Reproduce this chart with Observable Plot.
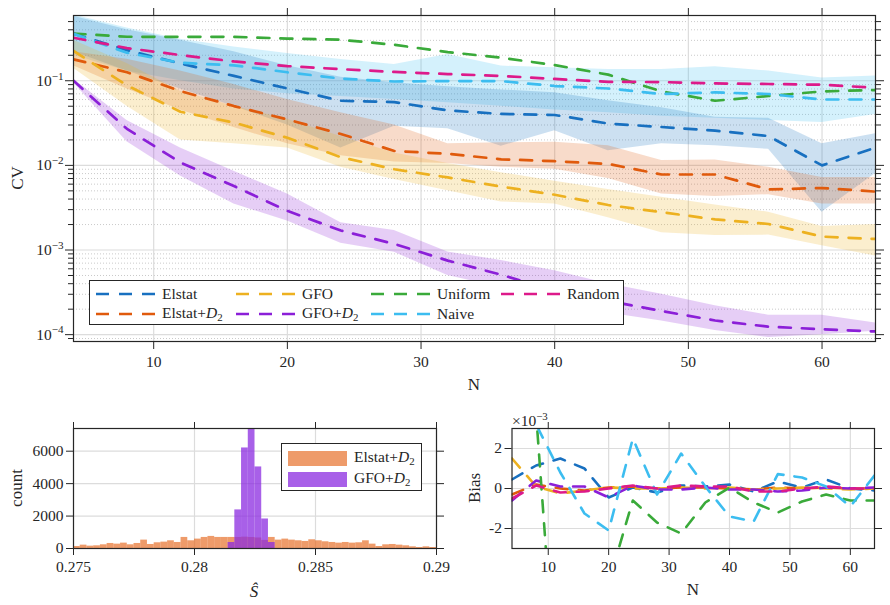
<!DOCTYPE html>
<html><head><meta charset="utf-8">
<script src="https://cdn.jsdelivr.net/npm/d3@7"></script>
<script src="https://cdn.jsdelivr.net/npm/@observablehq/plot@0.6"></script>
<style>
body{margin:0;background:#fff;}
#wrap{position:relative;width:890px;height:605px;overflow:hidden;font-family:"Liberation Serif","DejaVu Serif",serif;color:#262626;}
#wrap svg text{font-family:"Liberation Serif","DejaVu Serif",serif !important;}
.lbl{position:absolute;font-size:17px;white-space:nowrap;line-height:1;}
.rot{transform:translate(-50%,-50%) rotate(-90deg);}
.ctr{transform:translate(-50%,-50%);}
.legend{position:absolute;background:#fff;border:1.3px solid #262626;box-sizing:border-box;}
.lt{position:absolute;font-size:15.5px;white-space:nowrap;line-height:1;transform:translateY(-50%);}
sub{font-size:70%;vertical-align:-0.25em;}
sup{font-size:70%;vertical-align:0.55em;}
</style></head><body><div id="wrap"></div>
<script>
// ---------------- data ----------------
const N = [4, 8, 12, 16, 20, 24, 28, 32, 36, 40, 44, 48, 52, 56, 60, 64];
const seriesNames = ["Elstat", "Elstat+D2", "GFO", "GFO+D2", "Uniform", "Naive", "Random"];
const seriesColors = ["#1870c0", "#e05a0c", "#edb120", "#8b1fd8", "#3aaa3a", "#3cbdf0", "#dd1a8a"];

// CV (main panel)
const cvElstat    = [0.36, 0.23, 0.16, 0.114, 0.081, 0.058, 0.056, 0.0446, 0.0405, 0.0394, 0.0312, 0.0284, 0.0257, 0.0222, 0.0100, 0.0162];
const cvElstatLo  = [0.22, 0.13, 0.08, 0.05, 0.03, 0.016, 0.029, 0.027, 0.0168, 0.0257, 0.0149, 0.018, 0.017, 0.0155, 0.0028, 0.008];
const cvElstatHi  = [0.58, 0.40, 0.30, 0.22, 0.15, 0.11, 0.095, 0.085, 0.078, 0.072, 0.058, 0.048, 0.037, 0.036, 0.018, 0.0237];
const cvElstatD2   = [0.179, 0.126, 0.0755, 0.0502, 0.0349, 0.0235, 0.0148, 0.0137, 0.0118, 0.0112, 0.0104, 0.0078, 0.0078, 0.0052, 0.0054, 0.0049];
const cvElstatD2Lo = [0.15, 0.08, 0.045, 0.028, 0.018, 0.013, 0.011, 0.0105, 0.0095, 0.009, 0.007, 0.0046, 0.0043, 0.0045, 0.0035, 0.0035];
const cvElstatD2Hi = [0.22, 0.18, 0.13, 0.09, 0.06, 0.042, 0.03, 0.018, 0.0185, 0.0187, 0.017, 0.0114, 0.0116, 0.0095, 0.0072, 0.0072];
const cvGFO    = [0.225, 0.088, 0.043, 0.032, 0.0212, 0.0125, 0.009, 0.0072, 0.0056, 0.0045, 0.0034, 0.0028, 0.0023, 0.00203, 0.00144, 0.00135];
const cvGFOLo  = [0.14, 0.05, 0.02, 0.018, 0.016, 0.0095, 0.0068, 0.005, 0.0037, 0.0035, 0.0024, 0.0016, 0.00148, 0.0015, 0.00112, 0.00085];
const cvGFOHi  = [0.30, 0.16, 0.075, 0.05, 0.035, 0.022, 0.014, 0.0105, 0.0082, 0.0065, 0.0052, 0.0042, 0.0034, 0.0028, 0.0019, 0.002];
const cvGFOD2   = [0.1, 0.027, 0.0108, 0.0057, 0.0029, 0.0017, 0.00118, 0.00075, 0.00051, 0.00033, 0.00025, 0.00019, 0.000147, 0.000124, 0.000116, 0.000109];
const cvGFOD2Lo = [0.095, 0.019, 0.0075, 0.0035, 0.0022, 0.0012, 0.00094, 0.0005, 0.00036, 0.00024, 0.00018, 0.000145, 0.000112, 0.0000925, 0.0001, 0.00011];
const cvGFOD2Hi = [0.105, 0.034, 0.016, 0.0085, 0.0046, 0.0021, 0.0017, 0.00095, 0.00075, 0.00057, 0.0004, 0.0003, 0.00022, 0.00017, 0.00017, 0.000137];
const cvUniform = [0.361, 0.331, 0.33, 0.33, 0.315, 0.305, 0.266, 0.218, 0.187, 0.153, 0.118, 0.0748, 0.058, 0.066, 0.0748, 0.0777];
const cvNaive    = [0.36, 0.214, 0.163, 0.152, 0.126, 0.106, 0.098, 0.099, 0.099, 0.0866, 0.081, 0.0697, 0.0728, 0.0697, 0.060, 0.060];
const cvNaiveLo  = [0.2, 0.13, 0.1, 0.08, 0.07, 0.065, 0.06, 0.055, 0.05, 0.045, 0.042, 0.038, 0.036, 0.034, 0.032, 0.04];
const cvNaiveHi  = [0.6, 0.42, 0.31, 0.25, 0.21, 0.178, 0.156, 0.204, 0.149, 0.142, 0.136, 0.136, 0.146, 0.13, 0.108, 0.114];
const cvRandom = [0.322, 0.243, 0.201, 0.169, 0.149, 0.137, 0.127, 0.120, 0.114, 0.105, 0.097, 0.0965, 0.093, 0.0915, 0.0897, 0.0826];

// Bias (x 1e-3)
const biasElstat   = [0.45, 1.15, 1.5, 1.0, -0.45, 0.05, -0.2, 0.15, 0.1, 0.2, -0.15, 0.35, 0.05, 0.45, 0.0, -0.1];
const biasElstatD2 = [-0.3, 0.2, 0.0, -0.1, 0.05, 0.1, 0.0, 0.05, 0.05, 0.0, -0.05, 0.05, 0.0, 0.05, 0.0, 0.0];
const biasGFO      = [1.5, 0.1, -0.25, -0.1, 0.05, 0.0, 0.0, 0.05, 0.0, 0.05, -0.05, 0.0, 0.05, 0.0, -0.05, 0.0];
const biasGFOD2    = [-0.6, 0.4, 0.1, 0.1, -0.45, 0.15, -0.05, -0.05, 0.05, -0.05, -0.05, -0.15, -0.1, 0.05, 0.0, 0.05];
const biasUniform  = [6.0, 3.7, -13.0, -8.0, -4.7, -0.6, -1.7, -2.25, -0.7, 0.05, -0.7, -1.2, -0.65, -0.3, -0.6, -0.6];
const biasNaive    = [5.0, 3.2, 0.8, -1.25, -2.1, 2.5, -0.3, 1.75, 0.1, -1.4, -1.65, 0.72, 0.55, 0.1, -0.9, 0.65];
const biasRandom   = [-0.5, 0.15, -0.2, -0.15, 0.0, 0.15, 0.0, 0.15, 0.1, 0.1, -0.15, -0.15, 0.0, 0.1, 0.0, 0.0];

// Histogram of S-hat (54 bins from 0.275 to 0.29)
const histStart = 0.275, histEnd = 0.29;
const histElstatD2 = [124,207,145,166,228,310,269,331,228,310, 517,248,352,393,476,372,683,476,579,683,
  745,683,683,683,680,700,680,650,500,683, 517,579,517,476,434,538,476,414,372,331,
  372,331,352,476,269,124,228,248,207,166, 103,62,103,62];
const histGFOD2 = [0,0,0,0,0,0,0,0,0,0, 0,0,0,0,0,0,0,0,0,0, 0,0,0,370,2380,6200,7400,5030,1820,370,
  0,0,0,0,0,0,0,0,0,0, 0,0,0,0,0,0,0,0,0,0, 0,0,0,0];

// ticks
const cvXTicks = [10, 20, 30, 40, 50, 60];
const cvYTicks = [1e-4, 1e-3, 1e-2, 1e-1];
const cvYTickLabels = ["10−4", "10−3", "10−2", "10−1"];
const cvYMinor = [9e-5, 2e-4,3e-4,4e-4,5e-4,6e-4,7e-4,8e-4,9e-4, 2e-3,3e-3,4e-3,5e-3,6e-3,7e-3,8e-3,9e-3,
  2e-2,3e-2,4e-2,5e-2,6e-2,7e-2,8e-2,9e-2, 0.2,0.3,0.4,0.5];
const histXTicks = [0.275, 0.28, 0.285, 0.29];
const histXTickLabels = ["0.275", "0.28", "0.285", "0.29"];
const histYTicks = [0, 2000, 4000, 6000];
const biasYTicks = [-2, 0, 2];

// ---------------- build ----------------
const wrap = document.getElementById("wrap");
function place(el, left, top) { el.style.position = "absolute"; el.style.left = left + "px"; el.style.top = top + "px"; wrap.appendChild(el); return el; }
const baseStyle = {fontFamily: "'Liberation Serif', 'DejaVu Serif', serif", fontSize: "15.5px", color: "#262626", background: "transparent", overflow: "visible"};
const gridC = "#dcdcdc";
const dash = "12,11";

// main panel
const cvSeries = [
  {v: cvElstat, lo: cvElstatLo, hi: cvElstatHi},
  {v: cvElstatD2, lo: cvElstatD2Lo, hi: cvElstatD2Hi},
  {v: cvGFO, lo: cvGFOLo, hi: cvGFOHi},
  {v: cvGFOD2, lo: cvGFOD2Lo, hi: cvGFOD2Hi},
  {v: cvUniform},
  {v: cvNaive, lo: cvNaiveLo, hi: cvNaiveHi},
  {v: cvRandom}
].map((s, k) => ({...s, name: seriesNames[k], color: seriesColors[k]}));

const bandOrder = [5, 0, 1, 2, 3];
const cvBands = bandOrder.map(k => cvSeries[k]).map(s => Plot.areaY(N.map((n, i) => ({N: n, lo: s.lo[i], hi: s.hi[i]})),
  {x: "N", y1: "lo", y2: "hi", fill: s.color, fillOpacity: 0.22, clip: true}));
const cvLines = cvSeries.map(s => Plot.line(N.map((n, i) => ({N: n, v: s.v[i]})),
  {x: "N", y: "v", stroke: s.color, strokeWidth: 2.7, strokeDasharray: dash, clip: true}));

const mainSvg = Plot.plot({
  width: 890, height: 395, marginLeft: 73, marginRight: 15, marginTop: 15, marginBottom: 54,
  style: baseStyle,
  x: {domain: [4, 64]},
  y: {type: "log", domain: [8.3e-5, 0.59]},
  marks: [
    Plot.ruleY(cvYMinor, {stroke: "#c4c4c4", strokeWidth: 0.9, strokeDasharray: "1,2"}),
    Plot.ruleY(cvYTicks, {stroke: gridC, strokeWidth: 1.2}),
    Plot.ruleX(cvXTicks, {stroke: gridC, strokeWidth: 1.2}),
    ...cvBands,
    ...cvLines,
    Plot.axisX(cvXTicks, {anchor: "bottom", tickSize: 8, tickPadding: 6, tickFormat: d => String(d), label: null}),
    Plot.axisX(cvXTicks, {anchor: "top", tickSize: 8, tickFormat: () => "", label: null}),
    Plot.axisY(cvYTicks, {anchor: "left", tickSize: 8, tickPadding: 2, tickFormat: d => cvYTickLabels[cvYTicks.indexOf(d)], label: null}),
    Plot.axisY(cvYTicks, {anchor: "right", tickSize: 8, tickFormat: () => "", label: null}),
    Plot.axisY(cvYMinor, {anchor: "left", tickSize: 5, tickFormat: () => "", label: null}),
    Plot.axisY(cvYMinor, {anchor: "right", tickSize: 5, tickFormat: () => "", label: null}),
    Plot.frame({stroke: "#262626", strokeWidth: 1.2})
  ]
});
place(mainSvg, 0, 0);
d3.select(mainSvg).selectAll("text").each(function () {
  const m = this.textContent.match(/^10(−\d)$/);
  if (!m) return;
  const s = d3.select(this); s.text("");
  s.append("tspan").text("10");
  s.append("tspan").attr("dy", "-0.55em").attr("font-size", "0.72em").text(m[1]);
});

// histogram panel
const binW = (histEnd - histStart) / histElstatD2.length;
const histRows = (counts) => counts.map((c, i) => ({x1: histStart + i * binW, x2: histStart + (i + 1) * binW, c})).filter(d => d.c > 0);
const histColors = ["#e5661a", "#8b2be0"];
const histSvg = Plot.plot({
  width: 450, height: 205, marginLeft: 73, marginRight: 14, marginTop: 28, marginBottom: 57,
  style: baseStyle,
  x: {domain: [histStart, histEnd]},
  y: {domain: [0, 7400]},
  marks: [
    Plot.ruleX(histXTicks, {stroke: gridC, strokeWidth: 1.2}),
    Plot.ruleY(histYTicks, {stroke: gridC, strokeWidth: 1.2}),
    Plot.rectY(histRows(histElstatD2), {x1: "x1", x2: "x2", y: "c", fill: histColors[0], fillOpacity: 0.65, clip: true}),
    Plot.rectY(histRows(histGFOD2), {x1: "x1", x2: "x2", y: "c", fill: histColors[1], fillOpacity: 0.75, clip: true}),
    Plot.axisX(histXTicks, {anchor: "bottom", tickSize: 7, tickPadding: 5, tickFormat: d => histXTickLabels[histXTicks.indexOf(d)], label: null}),
    Plot.axisX(histXTicks, {anchor: "top", tickSize: 7, tickFormat: () => "", label: null}),
    Plot.axisY(histYTicks, {anchor: "left", tickSize: 7, tickPadding: 3, tickFormat: d => String(d), label: null}),
    Plot.axisY(histYTicks, {anchor: "right", tickSize: 7, tickFormat: () => "", label: null}),
    Plot.frame({stroke: "#262626", strokeWidth: 1.2})
  ]
});
place(histSvg, 0, 400);

// bias panel
const biasSeries = [biasElstat, biasElstatD2, biasGFO, biasGFOD2, biasUniform, biasNaive, biasRandom];
const biasLines = biasSeries.map((b, k) => Plot.line(N.map((n, i) => ({N: n, v: b[i]})),
  {x: "N", y: "v", stroke: seriesColors[k], strokeWidth: 2.6, strokeDasharray: dash, clip: true}));
const biasSvg = Plot.plot({
  width: 450, height: 205, marginLeft: 71.5, marginRight: 16, marginTop: 28, marginBottom: 57,
  style: baseStyle,
  x: {domain: [4, 64]},
  y: {domain: [-3, 3]},
  marks: [
    Plot.ruleX(cvXTicks, {stroke: gridC, strokeWidth: 1.2}),
    Plot.ruleY(biasYTicks, {stroke: gridC, strokeWidth: 1.2}),
    ...biasLines,
    Plot.axisX(cvXTicks, {anchor: "bottom", tickSize: 7, tickPadding: 5, tickFormat: d => String(d), label: null}),
    Plot.axisX(cvXTicks, {anchor: "top", tickSize: 7, tickFormat: () => "", label: null}),
    Plot.axisY(biasYTicks, {anchor: "left", tickSize: 7, tickPadding: 3, tickFormat: d => String(d), label: null}),
    Plot.axisY(biasYTicks, {anchor: "right", tickSize: 7, tickFormat: () => "", label: null}),
    Plot.frame({stroke: "#262626", strokeWidth: 1.2})
  ]
});
place(biasSvg, 440, 400);

// axis labels
function label(html, x, y, cls) { const d = document.createElement("div"); d.className = "lbl " + cls; d.innerHTML = html; place(d, x, y); return d; }
label("CV", 17, 178, "rot");
label("N", 474, 384, "ctr");
label("count", 16, 488, "rot");
label("<i>Ŝ</i>", 254, 591, "ctr");
label("Bias", 474, 488, "rot");
label("N", 693, 589, "ctr");
const mult = label("×10<sup>−3</sup>", 512, 411, "");
mult.style.fontSize = "15.5px";

// main legend
const leg = document.createElement("div"); leg.className = "legend";
leg.style.width = "535px"; leg.style.height = "45px";
place(leg, 89, 280);
const legPos = [[0, 0], [0, 1], [1, 0], [1, 1], [2, 0], [2, 1], [3, 0]];
const colX = [6, 146, 281, 411];
const rowY = [13, 33];
const legNames = ["Elstat", "Elstat+<i>D</i><sub>2</sub>", "GFO", "GFO+<i>D</i><sub>2</sub>", "Uniform", "Naive", "Random"];
legPos.forEach(([c, r], k) => {
  const svg = d3.create("svg").attr("width", 60).attr("height", 6)
    .style("position", "absolute").style("left", colX[c] + "px").style("top", (rowY[r] - 3) + "px");
  svg.append("line").attr("x1", 0).attr("x2", 59).attr("y1", 3).attr("y2", 3)
    .attr("stroke", seriesColors[k]).attr("stroke-width", 2.7).attr("stroke-dasharray", "13,10");
  leg.appendChild(svg.node());
  const t = document.createElement("div"); t.className = "lt"; t.innerHTML = legNames[k];
  t.style.left = (colX[c] + 66) + "px"; t.style.top = rowY[r] + "px";
  leg.appendChild(t);
});

// histogram legend
const hl = document.createElement("div"); hl.className = "legend";
hl.style.width = "141px"; hl.style.height = "48px";
place(hl, 281, 443);
[["Elstat+<i>D</i><sub>2</sub>", histColors[0], 0.65, 14], ["GFO+<i>D</i><sub>2</sub>", histColors[1], 0.75, 35]].forEach(([txt, col, op, y]) => {
  const sw = document.createElement("div");
  sw.style.cssText = `position:absolute;left:6px;top:${y - 7}px;width:59px;height:15px;background:${col};opacity:${op};`;
  hl.appendChild(sw);
  const t = document.createElement("div"); t.className = "lt"; t.innerHTML = txt;
  t.style.left = "72px"; t.style.top = y + "px";
  hl.appendChild(t);
});
</script></body></html>
